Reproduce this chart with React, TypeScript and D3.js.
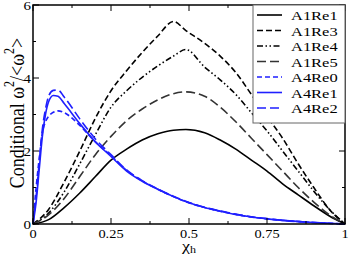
import React from "react";
import * as d3 from "d3";

// chi_h sample positions and conditional enstrophy values
const xsA1 = [0, 0.05, 0.1, 0.15, 0.2, 0.25, 0.3, 0.35, 0.4, 0.45, 0.49, 0.55, 0.6, 0.65, 0.7, 0.75, 0.8, 0.85, 0.9, 0.95, 1];
const a1re1 = [0, 0.12, 0.45, 0.85, 1.3, 1.75, 2.05, 2.3, 2.47, 2.57, 2.59, 2.5, 2.3, 2.05, 1.75, 1.45, 1.1, 0.8, 0.5, 0.22, 0];
const a1re3 = [0, 0.4, 1.15, 2.0, 2.9, 3.65, 4.2, 4.7, 5.15, 5.55, 5.3, 4.95, 4.6, 4.15, 3.55, 2.95, 2.35, 1.65, 1.0, 0.4, 0];
const a1re4 = [0, 0.3, 0.88, 1.65, 2.45, 3.2, 3.65, 4.02, 4.33, 4.6, 4.78, 4.3, 3.95, 3.55, 3.05, 2.55, 2.0, 1.45, 0.9, 0.4, 0];
const a1re5 = [0, 0.25, 0.7, 1.3, 1.9, 2.4, 2.83, 3.15, 3.4, 3.57, 3.62, 3.5, 3.2, 2.8, 2.35, 1.9, 1.45, 1.0, 0.6, 0.25, 0];

const xsA4 = [0, 0.01, 0.02, 0.03, 0.04, 0.05, 0.065, 0.08, 0.1, 0.15, 0.2, 0.25, 0.3, 0.35, 0.4, 0.45, 0.5, 0.55, 0.6, 0.65, 0.7, 0.75, 0.8, 0.9, 1];
const a4re0 = [0, 1.0, 1.8, 2.5, 2.8, 2.95, 3.06, 3.1, 3.05, 2.7, 2.25, 1.87, 1.47, 1.18, 0.95, 0.75, 0.58, 0.45, 0.35, 0.26, 0.19, 0.14, 0.1, 0.04, 0];
const a4re1 = [0, 0.6, 1.5, 2.4, 3.0, 3.35, 3.52, 3.5, 3.3, 2.75, 2.25, 1.85, 1.45, 1.17, 0.95, 0.75, 0.58, 0.45, 0.35, 0.26, 0.19, 0.14, 0.1, 0.04, 0];
const a4re2 = [0, 0.75, 1.7, 2.6, 3.15, 3.5, 3.66, 3.67, 3.48, 2.88, 2.33, 1.9, 1.48, 1.19, 0.96, 0.76, 0.59, 0.46, 0.36, 0.27, 0.2, 0.15, 0.1, 0.04, 0];

const xTicks = [0, 0.25, 0.5, 0.75, 1];
const xTickLabels = ["0", "0.25", "0.5", "0.75", "1"];
const yTicks = [0, 2, 4, 6];

const series = [
  { name: "A1Re1", xs: xsA1, ys: a1re1, color: "#000", dash: "" },
  { name: "A1Re3", xs: xsA1, ys: a1re3, color: "#000", dash: "6,3" },
  { name: "A1Re4", xs: xsA1, ys: a1re4, color: "#000", dash: "6,2.5,1.5,2.5,1.5,2.5" },
  { name: "A1Re5", xs: xsA1, ys: a1re5, color: "#333", dash: "9,4" },
  { name: "A4Re0", xs: xsA4, ys: a4re0, color: "#1f1fff", dash: "5,3" },
  { name: "A4Re1", xs: xsA4, ys: a4re1, color: "#1f1fff", dash: "" },
  { name: "A4Re2", xs: xsA4, ys: a4re2, color: "#1f1fff", dash: "9,4" },
];

const W = 349;
const H = 257;
const L = 33, R = 345, T = 5, B = 224;
const SX = 1.2; // the original figure is stretched horizontally

export default function App() {
  const x = d3.scaleLinear().domain([0, 1]).range([L, R]);
  const y = d3.scaleLinear().domain([0, 6]).range([B, T]);
  const line = d3
    .line<[number, number]>()
    .x(d => x(d[0]))
    .y(d => y(d[1]))
    .curve(d3.curveMonotoneX);

  const xMinor = d3.range(0, 1.0001, 0.125);
  const yMinor = d3.range(0, 6.0001, 1);
  const font = "Liberation Serif, Times New Roman, DejaVu Serif, serif";

  return (
    <svg width={W} height={H} style={{ position: "absolute", left: 0, top: 0, fontFamily: font }}>
      <rect x={0} y={0} width={W} height={H} fill="#fff" />
      {series.map(s => (
        <path
          key={s.name}
          d={line(s.xs.map((v, i) => [v, s.ys[i]] as [number, number])) || ""}
          fill="none"
          stroke={s.color}
          strokeWidth={1.6}
          strokeDasharray={s.dash}
        />
      ))}
      {/* ticks on all four sides, pointing inward */}
      {xMinor.map((v, i) => {
        const len = i % 2 === 0 ? 6 : 3;
        return (
          <g key={"xt" + i} stroke="#000" strokeWidth={1}>
            <line x1={x(v)} x2={x(v)} y1={B} y2={B - len} />
            <line x1={x(v)} x2={x(v)} y1={T} y2={T + len} />
          </g>
        );
      })}
      {yMinor.map((v, i) => {
        const len = i % 2 === 0 ? 6 : 3;
        return (
          <g key={"yt" + i} stroke="#000" strokeWidth={1}>
            <line x1={L} x2={L + len} y1={y(v)} y2={y(v)} />
            <line x1={R} x2={R - len} y1={y(v)} y2={y(v)} />
          </g>
        );
      })}
      <rect x={L} y={T} width={R - L} height={B - T} fill="none" stroke="#000" strokeWidth={1.5} />
      {xTicks.map((v, i) => (
        <text key={"xl" + i} transform={`translate(${x(v)},${B + 14}) scale(${SX},1)`} textAnchor="middle" fontSize={12}>
          {xTickLabels[i]}
        </text>
      ))}
      {yTicks.map(v => (
        <text key={"yl" + v} transform={`translate(${L - 2},${y(v) + 4.5}) scale(${SX},1)`} textAnchor="end" fontSize={12.5}>
          {v}
        </text>
      ))}
      <text transform={`translate(${x(0.5)},251) scale(${SX},1)`} textAnchor="middle" fontSize={15}>
        χ<tspan fontSize={10} dy={2}>h</tspan>
      </text>
      <text transform={`translate(24,113) scale(${SX},1) rotate(-90)`} textAnchor="middle" fontSize={18}>
        Conditional ω<tspan fontSize={12} dy={-8}>2</tspan>
        <tspan dy={8}>/&lt;ω</tspan>
        <tspan fontSize={12} dy={-8}>2</tspan>
        <tspan dy={8}>&gt;</tspan>
      </text>
      {/* legend */}
      <rect x={253} y={T} width={R - 253} height={118} fill="#fff" stroke="#666" strokeWidth={1} />
      {series.map((s, i) => {
        const ly = 15 + i * 15.5;
        return (
          <g key={"lg" + s.name}>
            <line x1={257} x2={282} y1={ly} y2={ly} stroke={s.color} strokeWidth={1.6} strokeDasharray={s.dash} />
            <text transform={`translate(291,${ly + 5}) scale(1.22,1)`} fontSize={13.5}>
              {s.name}
            </text>
          </g>
        );
      })}
    </svg>
  );
}
